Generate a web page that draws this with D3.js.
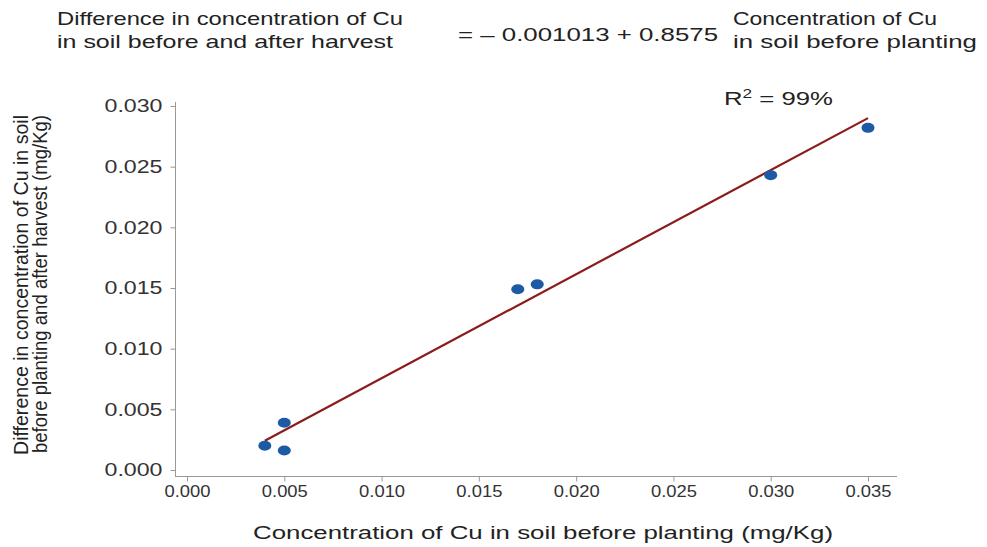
<!DOCTYPE html>
<html><head><meta charset="utf-8">
<script src="https://cdn.jsdelivr.net/npm/d3@7"></script>
<style>body{margin:0;background:#fff}svg{display:block}text{font-family:"Liberation Sans",Arial,sans-serif}</style>
</head><body>
<svg id="c" width="987" height="547"></svg>
<script>
const xValues = [0.004, 0.005, 0.005, 0.017, 0.018, 0.030, 0.035];
const yValues = [0.0020, 0.0039, 0.0016, 0.0149, 0.0153, 0.0243, 0.0282];
const xTicks = [0.000, 0.005, 0.010, 0.015, 0.020, 0.025, 0.030, 0.035];
const yTicks = [0.000, 0.005, 0.010, 0.015, 0.020, 0.025, 0.030];
const intercept = -0.001013, slope = 0.8575;
const fitRange = [0.004, 0.035];

const svg = d3.select("#c");
const x = d3.scaleLinear().domain([0, 0.035]).range([187, 868]);
const y = d3.scaleLinear().domain([0, 0.030]).range([470, 106]);
const axisColor = "#999";

svg.append("line").attr("x1",175.5).attr("x2",175.5).attr("y1",102).attr("y2",476).attr("stroke",axisColor);
svg.append("line").attr("x1",175).attr("x2",897).attr("y1",476.5).attr("y2",476.5).attr("stroke",axisColor);

const yAxis = svg.append("g").attr("transform","translate(175.5,0)")
  .call(d3.axisLeft(y).tickValues(yTicks).tickFormat(d3.format(".3f")).tickSize(5).tickPadding(8));
const xAxis = svg.append("g").attr("transform","translate(0,476.5)")
  .call(d3.axisBottom(x).tickValues(xTicks).tickFormat(d3.format(".3f")).tickSize(5).tickPadding(3));
[yAxis,xAxis].forEach(a=>{
  a.select(".domain").remove();
  a.selectAll(".tick line").attr("stroke",axisColor);
  a.selectAll(".tick text").attr("fill","#333").style("font-family","'Liberation Sans',Arial,sans-serif");
});
yAxis.selectAll(".tick text").style("font-size","18px").attr("textLength",58).attr("lengthAdjust","spacingAndGlyphs");
xAxis.selectAll(".tick text").style("font-size","17px").attr("textLength",46).attr("lengthAdjust","spacingAndGlyphs");

svg.append("line")
  .attr("x1",x(fitRange[0])).attr("y1",y(intercept+slope*fitRange[0]))
  .attr("x2",x(fitRange[1])).attr("y2",y(intercept+slope*fitRange[1]))
  .attr("stroke","#8b1c1c").attr("stroke-width",2.2);

svg.selectAll("ellipse.pt").data(xValues.map((v,i)=>[v,yValues[i]])).enter()
  .append("ellipse").attr("class","pt")
  .attr("cx",d=>x(d[0])).attr("cy",d=>y(d[1])).attr("rx",6.5).attr("ry",5)
  .attr("fill","#1d5aa5");

const t = (txt,xp,yp,size,len,anchor)=>svg.append("text").attr("x",xp).attr("y",yp)
  .attr("fill","#222").style("font-size",size+"px").attr("text-anchor",anchor||"start")
  .attr("textLength",len).attr("lengthAdjust","spacingAndGlyphs").text(txt);
t("Difference in concentration of Cu",57,25,19,346);
t("in soil before and after harvest",57,48,19,336);
t("= \u2013 0.001013 + 0.8575",458,41,19,260);
t("Concentration of Cu",733,25,19,204);
t("in soil before planting",733,48,19,244);
t("Concentration of Cu in soil before planting (mg/Kg)",253,539,17.5,580);

const r2 = svg.append("text").attr("x",724).attr("y",105).attr("fill","#222").style("font-size","18px")
  .attr("textLength",109).attr("lengthAdjust","spacingAndGlyphs");
r2.append("tspan").text("R");
r2.append("tspan").attr("dy",-7).style("font-size","12px").text("2");
r2.append("tspan").attr("dy",7).text(" = 99%");

const yl = svg.append("g").attr("transform","translate(0,285) rotate(-90)");
yl.append("text").attr("x",-170).attr("y",28).attr("fill","#222")
  .style("font-size","21px").attr("textLength",340).attr("lengthAdjust","spacingAndGlyphs")
  .text("Difference in concentration of Cu in soil");
yl.append("text").attr("x",-168).attr("y",47).attr("fill","#222")
  .style("font-size","21px").attr("textLength",338).attr("lengthAdjust","spacingAndGlyphs")
  .text("before planting and after harvest  (mg/Kg)");
</script>
</body></html>
